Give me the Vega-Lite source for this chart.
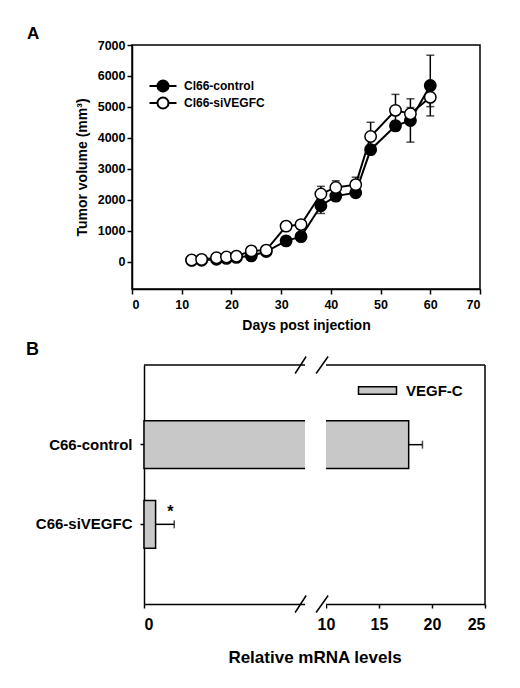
{
  "$schema": "https://vega.github.io/schema/vega-lite/v6.json",
  "autosize": {"type": "none"},
  "padding": {"left": 132, "top": 45, "right": 388, "bottom": 643},
  "background": "white",
  "config": {
    "font": "Liberation Sans",
    "view": {"stroke": null},
    "axis": {
      "grid": false,
      "labelFont": "Liberation Sans",
      "labelFontWeight": "bold",
      "labelColor": "black",
      "titleFont": "Liberation Sans",
      "titleFontWeight": "bold",
      "titleColor": "black",
      "domainColor": "black",
      "domainWidth": 1.5,
      "tickColor": "black",
      "tickWidth": 1.5,
      "zindex": 0
    },
    "legend": {
      "labelFont": "Liberation Sans",
      "labelFontWeight": "bold",
      "labelColor": "black",
      "padding": 0
    },
    "title": {"font": "Liberation Sans", "fontWeight": "bold", "color": "black"}
  },
  "bounds": "flush",
  "spacing": 76,
  "resolve": {"scale": {"fill": "independent"}, "legend": {"fill": "independent"}},
  "vconcat": [
    {
      "title": {"text": "A", "anchor": "start", "frame": "group", "dx": -105, "offset": -4, "fontSize": 17},
      "width": 348,
      "height": 244,
      "view": {"stroke": "black", "strokeWidth": 1.5},
      "data": {
        "values": [
          {"day": 12, "series": "Cl66-control", "vol": 45, "se": 20},
          {"day": 14, "series": "Cl66-control", "vol": 50, "se": 20},
          {"day": 17, "series": "Cl66-control", "vol": 80, "se": 25},
          {"day": 19, "series": "Cl66-control", "vol": 110, "se": 30},
          {"day": 21, "series": "Cl66-control", "vol": 140, "se": 30},
          {"day": 24, "series": "Cl66-control", "vol": 190, "se": 50},
          {"day": 27, "series": "Cl66-control", "vol": 330, "se": 60},
          {"day": 31, "series": "Cl66-control", "vol": 675, "se": 80},
          {"day": 34, "series": "Cl66-control", "vol": 810, "se": 100},
          {"day": 38, "series": "Cl66-control", "vol": 1810, "se": 250},
          {"day": 41, "series": "Cl66-control", "vol": 2120, "se": 150},
          {"day": 45, "series": "Cl66-control", "vol": 2230, "se": 120},
          {"day": 48, "series": "Cl66-control", "vol": 3620, "se": 150},
          {"day": 53, "series": "Cl66-control", "vol": 4390, "se": 150},
          {"day": 56, "series": "Cl66-control", "vol": 4563, "se": 700},
          {"day": 60, "series": "Cl66-control", "vol": 5690, "se": 980},
          {"day": 12, "series": "Cl66-siVEGFC", "vol": 55, "se": 20},
          {"day": 14, "series": "Cl66-siVEGFC", "vol": 75, "se": 20},
          {"day": 17, "series": "Cl66-siVEGFC", "vol": 130, "se": 30},
          {"day": 19, "series": "Cl66-siVEGFC", "vol": 155, "se": 30},
          {"day": 21, "series": "Cl66-siVEGFC", "vol": 180, "se": 40},
          {"day": 24, "series": "Cl66-siVEGFC", "vol": 350, "se": 60},
          {"day": 27, "series": "Cl66-siVEGFC", "vol": 375, "se": 70},
          {"day": 31, "series": "Cl66-siVEGFC", "vol": 1150, "se": 120},
          {"day": 34, "series": "Cl66-siVEGFC", "vol": 1200, "se": 110},
          {"day": 38, "series": "Cl66-siVEGFC", "vol": 2190, "se": 245},
          {"day": 41, "series": "Cl66-siVEGFC", "vol": 2400, "se": 215},
          {"day": 45, "series": "Cl66-siVEGFC", "vol": 2490, "se": 240},
          {"day": 48, "series": "Cl66-siVEGFC", "vol": 4045, "se": 460},
          {"day": 53, "series": "Cl66-siVEGFC", "vol": 4890, "se": 515},
          {"day": 56, "series": "Cl66-siVEGFC", "vol": 4780, "se": 200},
          {"day": 60, "series": "Cl66-siVEGFC", "vol": 5310, "se": 300}
        ]
      },
      "encoding": {
        "x": {
          "field": "day",
          "type": "quantitative",
          "scale": {"domain": [0, 70], "nice": false, "zero": false},
          "axis": {
            "values": [0, 10, 20, 30, 40, 50, 60, 70],
            "format": "d",
            "title": "Days post injection",
            "labelFontSize": 12.5,
            "titleFontSize": 14,
            "tickSize": 5,
            "labelPadding": 4,
            "titlePadding": 8
          }
        },
        "y": {
          "field": "vol",
          "type": "quantitative",
          "scale": {"domain": [-880, 7000], "nice": false, "zero": false},
          "axis": {
            "values": [0, 1000, 2000, 3000, 4000, 5000, 6000, 7000],
            "format": "d",
            "title": "Tumor volume (mm³)",
            "labelFontSize": 12.5,
            "titleFontSize": 14,
            "tickSize": 5,
            "labelPadding": 2,
            "titlePadding": 8
          }
        }
      },
      "layer": [
        {
          "mark": {"type": "errorbar", "ticks": true, "size": 8, "thickness": 1.5, "color": "black"},
          "encoding": {"yError": {"field": "se"}, "detail": {"field": "series"}}
        },
        {
          "mark": {"type": "line", "color": "black", "strokeWidth": 2},
          "encoding": {"detail": {"field": "series", "type": "nominal"}}
        },
        {
          "mark": {"type": "point", "shape": "circle", "size": 130, "filled": true, "stroke": "black", "strokeWidth": 1.5, "opacity": 1},
          "encoding": {
            "fill": {
              "field": "series",
              "type": "nominal",
              "scale": {"domain": ["Cl66-control", "Cl66-siVEGFC"], "range": ["black", "white"]},
              "legend": {
                "title": null,
                "orient": "none",
                "legendX": 24,
                "legendY": 34,
                "symbolType": "M-2.25,0H-0.92A0.92,0.92 0 1,1 0.92,0A0.92,0.92 0 1,1 -0.92,0M0.92,0H2.25",
                "symbolSize": 144,
                "symbolStrokeColor": "black",
                "symbolStrokeWidth": 2,
                "symbolOpacity": 1,
                "labelFontSize": 12,
                "labelOffset": 14,
                "rowPadding": -3
              }
            }
          }
        }
      ]
    },
    {
      "title": {"text": "B", "anchor": "start", "frame": "group", "dx": -106, "offset": -5, "fontSize": 18},
      "width": 353,
      "height": 239,
      "resolve": {"scale": {"y": "independent"}},
      "layer": [
        {
          "data": {
            "values": [
              {"group": "C66-control", "gene": "VEGF-C", "value": 17.8, "upper": 19.1, "sig": ""},
              {"group": "C66-siVEGFC", "gene": "VEGF-C", "value": 0.36, "upper": 0.94, "sig": "*"}
            ]
          },
          "encoding": {
            "y": {
              "field": "group",
              "type": "nominal",
              "scale": {"domain": ["C66-control", "C66-siVEGFC"], "paddingInner": 0.4, "paddingOuter": 0.7},
              "axis": {
                "title": null,
                "offset": -12,
                "labelFontSize": 15,
                "tickSize": 4,
                "labelPadding": 8
              }
            }
          },
          "layer": [
            {
              "mark": {"type": "bar", "stroke": "black", "strokeWidth": 1.5},
              "encoding": {
                "x": {
                  "field": "value",
                  "type": "quantitative",
                  "scale": {"domain": [0, 5, 10, 25], "range": [12, 173, 194, 353], "nice": false, "zero": false},
                  "axis": {
                    "values": [0, 10, 15, 20, 25],
                    "title": "Relative mRNA levels",
                    "labelFontSize": 16,
                    "titleFontSize": 17,
                    "tickSize": 4,
                    "labelPadding": 8,
                    "titlePadding": 17,
                    "zindex": 0
                  }
                },
                "fill": {
                  "field": "gene",
                  "type": "nominal",
                  "scale": {"range": ["#c8c8c8"]},
                  "legend": {
                    "title": null,
                    "orient": "none",
                    "legendX": 238,
                    "legendY": 18,
                    "symbolType": "M-3.8,-0.75H3.8V0.75H-3.8Z",
                    "symbolSize": 100,
                    "symbolStrokeColor": "black",
                    "symbolStrokeWidth": 1.5,
                    "symbolOpacity": 1,
                    "labelFontSize": 15,
                    "labelOffset": 21
                  }
                }
              }
            },
            {
              "mark": {"type": "rule", "color": "black", "strokeWidth": 1.5},
              "encoding": {
                "x": {"field": "value", "type": "quantitative"},
                "x2": {"field": "upper"}
              }
            },
            {
              "mark": {"type": "tick", "color": "black", "size": 8, "thickness": 1.5, "orient": "vertical"},
              "encoding": {"x": {"field": "upper", "type": "quantitative"}}
            },
            {
              "mark": {"type": "text", "fontSize": 16, "fontWeight": "bold", "color": "black", "dx": -4, "dy": -12},
              "encoding": {
                "x": {"field": "upper", "type": "quantitative"},
                "text": {"field": "sig"}
              }
            }
          ]
        },
        {
          "data": {"values": [{}]},
          "layer": [
            {
              "mark": {"type": "rule", "color": "black", "strokeWidth": 1.5},
              "encoding": {
                "x": {"datum": 0, "type": "quantitative"},
                "x2": {"datum": 25},
                "y": {"datum": 1, "type": "quantitative", "scale": {"domain": [0, 1]}, "axis": null}
              }
            },
            {
              "mark": {"type": "rule", "color": "black", "strokeWidth": 1.5},
              "encoding": {
                "x": {"datum": 25, "type": "quantitative"},
                "y": {"datum": 0, "type": "quantitative", "scale": {"domain": [0, 1]}, "axis": null},
                "y2": {"datum": 1}
              }
            },
            {
              "mark": {"type": "rect", "color": "white"},
              "encoding": {
                "x": {"datum": 5, "type": "quantitative"},
                "x2": {"datum": 10},
                "y": {"datum": -0.02, "type": "quantitative", "scale": {"domain": [0, 1]}, "axis": null},
                "y2": {"datum": 1.02}
              }
            },
            {
              "mark": {"type": "point", "shape": "M-0.85,0.425L-0.3,-0.425M0.2,0.425L0.8,-0.425", "size": 1600, "stroke": "black", "strokeWidth": 1.5, "filled": false, "opacity": 1},
              "encoding": {
                "x": {"datum": 6.7, "type": "quantitative"},
                "y": {"datum": 1, "type": "quantitative", "scale": {"domain": [0, 1]}, "axis": null}
              }
            },
            {
              "mark": {"type": "point", "shape": "M-0.85,0.425L-0.3,-0.425M0.2,0.425L0.8,-0.425", "size": 1600, "stroke": "black", "strokeWidth": 1.5, "filled": false, "opacity": 1},
              "encoding": {
                "x": {"datum": 6.7, "type": "quantitative"},
                "y": {"datum": 0, "type": "quantitative", "scale": {"domain": [0, 1]}, "axis": null}
              }
            }
          ]
        }
      ]
    }
  ]
}
